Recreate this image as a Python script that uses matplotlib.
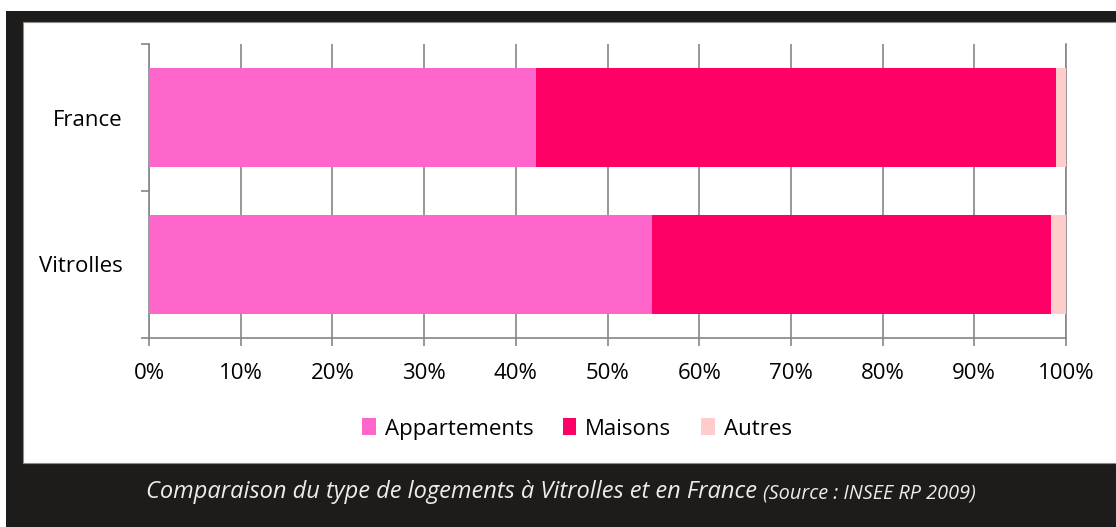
import matplotlib.pyplot as plt
from matplotlib.patches import Rectangle, Patch
from matplotlib.ticker import FixedLocator, PercentFormatter

#---- data (percent of dwellings)
places = ['Vitrolles', 'France']
series = ['Appartements', 'Maisons', 'Autres']
appartements = [54.9, 42.2]
maisons = [43.5, 56.7]
autres = [1.6, 1.1]
colors = ['#FF66CC', '#FF0066', '#FFCCCC']
x_ticks = list(range(0, 101, 10))
caption = 'Comparaison du type de logements à Vitrolles et en France'
source = '(Source : INSEE RP 2009)'

W, H = 1116, 527
fig = plt.figure(figsize=(W / 100, H / 100), dpi=100)
fig.patch.set_facecolor('white')

def fx(px):
    return px / W

def fy(py):
    return 1 - py / H

# dark frame + white panel (panel runs off the right edge)
dark = '#1E1C1A'
fig.patches.append(Rectangle((fx(6), 0), 1 - fx(6), fy(11), transform=fig.transFigure,
                             facecolor=dark, edgecolor='none', zorder=-2))
fig.patches.append(Rectangle((fx(23), fy(463)), 1.05 - fx(23), fy(22) - fy(463),
                             transform=fig.transFigure, facecolor='white',
                             edgecolor='#8C8C8C', lw=0.8, zorder=-1))

ax = fig.add_axes([fx(149), fy(338), fx(1066) - fx(149), fy(44) - fy(338)])
ax.set_facecolor('none')
ax.set_zorder(1)

ypos = list(range(len(places)))
left = [0] * len(places)
for name, vals, c in zip(series, [appartements, maisons, autres], colors):
    ax.barh(ypos, vals, left=left, height=0.667, color=c, label=name, zorder=3)
    left = [l + v for l, v in zip(left, vals)]

grid_c = '#868686'
ax.set_xlim(0, 100)
ax.set_ylim(-0.5, 1.5)
ax.set_xticks(x_ticks)
ax.xaxis.set_major_formatter(PercentFormatter(decimals=0))
ax.xaxis.grid(True, color=grid_c, lw=1.2, zorder=0)
ax.axvline(100, color=grid_c, lw=1.2, zorder=1, clip_on=False)

ax.set_yticks(ypos)
ax.set_yticklabels(places)
ax.yaxis.set_minor_locator(FixedLocator([-0.5, 0.5, 1.5]))

for s in ['top', 'right']:
    ax.spines[s].set_visible(False)
for s in ['left', 'bottom']:
    ax.spines[s].set_color(grid_c)
    ax.spines[s].set_linewidth(1.2)

font = 'Open Sans'
fs = 16
ax.tick_params(axis='x', length=6, width=1.2, color=grid_c, pad=12,
               labelsize=fs, labelcolor='black')
ax.tick_params(axis='y', which='major', length=0, pad=19,
               labelsize=fs, labelcolor='black')
ax.tick_params(axis='y', which='minor', length=5.5, width=1.2, color=grid_c)
for lab in ax.get_xticklabels() + ax.get_yticklabels():
    lab.set_fontfamily(font)

handles = [Patch(facecolor=c, edgecolor='none') for c in colors]
fig.legend(handles, series, loc='center', bbox_to_anchor=(fx(577), fy(429)),
           ncol=3, frameon=False, handlelength=0.6, handleheight=0.8,
           handletextpad=0.4, columnspacing=1.35,
           prop={'family': font, 'size': fs})

fig.text(fx(757), fy(492), caption, ha='right', va='center', color='#ECECEC',
         fontsize=17, fontstyle='italic', family=font)
fig.text(fx(763), fy(493), source, ha='left', va='center', color='#ECECEC',
         fontsize=14.3, fontstyle='italic', family=font)

fig.savefig('out.png', dpi=100, facecolor=fig.get_facecolor())
